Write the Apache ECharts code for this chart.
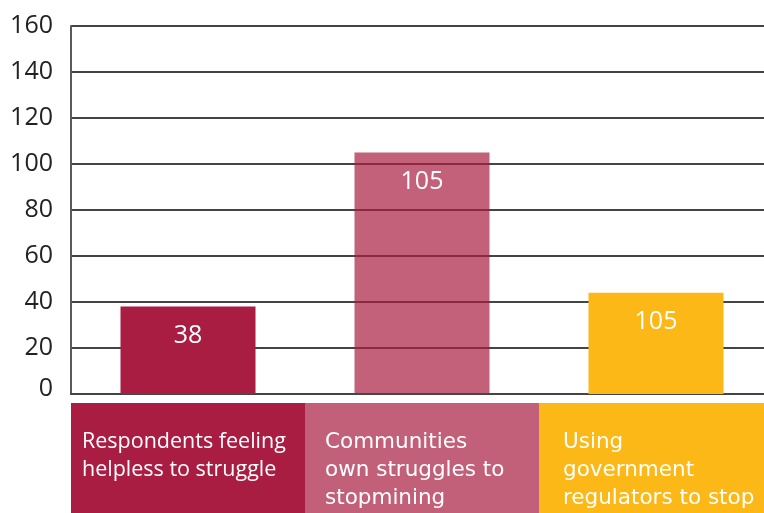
<!DOCTYPE html>
<html>
<head>
<meta charset="utf-8">
<script src="https://cdn.jsdelivr.net/npm/echarts@6/dist/echarts.min.js"></script>
<style>
  html, body { margin: 0; padding: 0; background: #fff; }
  #chart { width: 764px; height: 513px; }
</style>
</head>
<body>
<div id="chart"></div>
<script>
// Categories, bar values and the text printed on each bar
const categories = [
  'Respondents feeling\nhelpless to struggle',
  'Communities\nown struggles to\nstopmining',
  'Using\ngovernment\nregulators to stop'
];
const values = [38, 105, 44];
const valueLabels = ['38', '105', '105'];
const yTicks = [0, 20, 40, 60, 80, 100, 120, 140, 160];

const barColors = ['#A91D42', 'rgba(169,29,66,0.7)', '#FBB817'];
const boxColors = ['#A91D42', '#C2607A', '#FBB817'];
const boxPadLeft = [11, 20, 24];

const FONT = '"Open Sans", Lato, sans-serif';
const WIDE_FONT = '"DejaVu Sans", "Open Sans", sans-serif';
const BOX_W = 234, BOX_H = 112, PAD_TOP = 25;

const chart = echarts.init(document.getElementById('chart'), null, { renderer: 'canvas' });

chart.setOption({
  animation: false,
  // plot spans 702px so each category (and its caption box) is 234px wide;
  // the last box runs past the right edge of the canvas
  grid: {
    left: 71, width: 702, top: 26, bottom: 119,
    containLabel: false,
    outerBoundsMode: 'none'
  },
  xAxis: {
    type: 'category',
    data: categories.map((c, i) => ({
      value: c,
      textStyle: {
        backgroundColor: boxColors[i],
        padding: [PAD_TOP, 0, 0, boxPadLeft[i]],
        width: BOX_W - boxPadLeft[i],
        height: BOX_H - PAD_TOP
      }
    })),
    axisLine: { show: true, lineStyle: { color: '#444', width: 2 } },
    axisTick: { show: false },
    axisLabel: {
      interval: 0,
      margin: 9,
      align: 'center',
      verticalAlign: 'top',
      color: '#fff',
      fontFamily: FONT,
      fontSize: 21,
      lineHeight: 28,
      formatter: (v, idx) => {
        const key = idx === 0 ? 'tight' : 'wide';
        return v.split('\n').map(l => '{' + key + '|' + l + '}').join('\n');
      },
      rich: {
        tight: { align: 'left', color: '#fff', fontFamily: FONT, fontSize: 21.5, lineHeight: 28 },
        wide: { align: 'left', color: '#fff', fontFamily: WIDE_FONT, fontSize: 21.5, lineHeight: 28 }
      }
    }
  },
  yAxis: {
    type: 'value',
    min: yTicks[0],
    max: yTicks[yTicks.length - 1],
    interval: yTicks[1] - yTicks[0],
    axisLine: { show: true, lineStyle: { color: '#5a5a5a', width: 2 } },
    axisTick: { show: false },
    splitLine: { show: true, lineStyle: { color: '#444', width: 2 } },
    axisLabel: {
      color: '#222', fontFamily: FONT, fontSize: 25, margin: 18,
      // the zero label sits a little above the baseline
      formatter: v => (v === 0 ? '{zero|0}' : String(v)),
      rich: {
        zero: { color: '#222', fontFamily: FONT, fontSize: 25, padding: [0, 0, 11, 0] }
      }
    }
  },
  series: [{
    type: 'bar',
    barWidth: 135,
    data: values.map((v, i) => ({ value: v, itemStyle: { color: barColors[i] } })),
    label: {
      show: true,
      position: 'insideTop',
      distance: 17,
      color: '#fff',
      fontFamily: FONT,
      fontSize: 25,
      formatter: p => valueLabels[p.dataIndex]
    }
  }]
});
</script>
</body>
</html>
